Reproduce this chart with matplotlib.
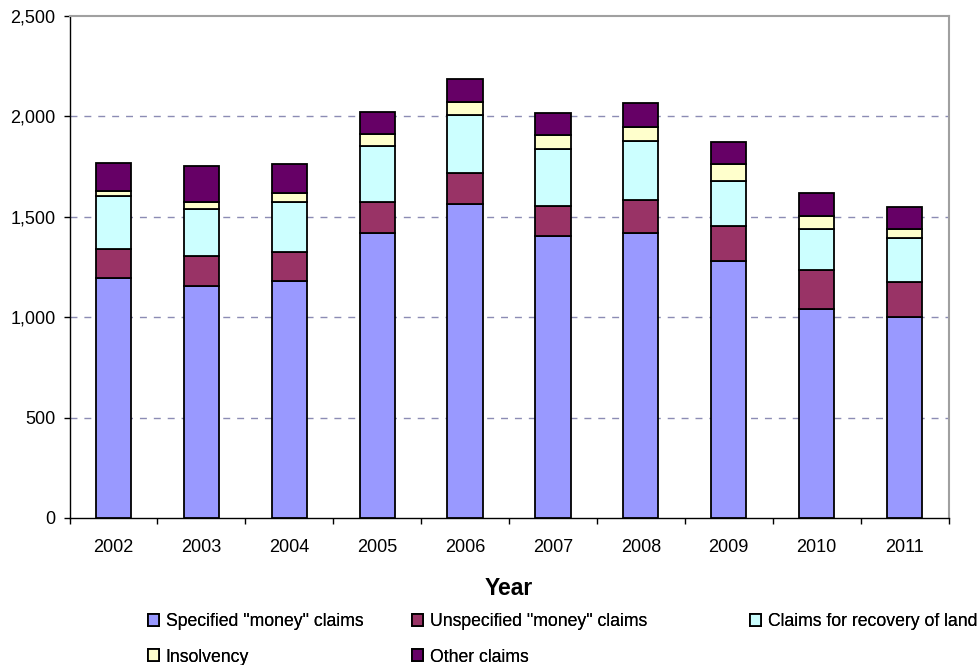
import matplotlib
matplotlib.use("Agg")
import matplotlib.pyplot as plt
import numpy as np

plt.rcParams['font.family'] = ['Liberation Sans', 'DejaVu Sans']

years = ["2002", "2003", "2004", "2005", "2006", "2007", "2008", "2009", "2010", "2011"]
specified = [1197, 1157, 1180, 1421, 1564, 1406, 1421, 1282, 1042, 1003]
unspecified = [143, 150, 143, 153, 154, 146, 163, 174, 191, 172]
land = [262, 233, 252, 278, 287, 285, 295, 223, 208, 217]
insolvency = [25, 33, 43, 60, 68, 69, 67, 84, 64, 49]
other = [141, 179, 144, 111, 111, 111, 121, 111, 112, 108]

series_names = ['Specified "money" claims', 'Unspecified "money" claims',
                'Claims for recovery of land', 'Insolvency', 'Other claims']
series_vals = [specified, unspecified, land, insolvency, other]
colors = ['#9999FF', '#993366', '#CCFFFF', '#FFFFCC', '#660066']
yticks = [0, 500, 1000, 1500, 2000, 2500]

fig = plt.figure(figsize=(9.8, 6.65), dpi=100)
ax = fig.add_axes([69.5/980, (665-518)/665, (948.5-69.5)/980, (518-16)/665])

x = np.arange(len(years))
bottom = np.zeros(len(years))
handles = []
for name, vals, c in zip(series_names, series_vals, colors):
    b = ax.bar(x, vals, width=0.4, bottom=bottom, color=c, edgecolor='black',
               linewidth=1.3, label=name, zorder=3)
    handles.append(b)
    bottom += np.array(vals)

ax.set_xlim(-0.5, len(years) - 0.5)
ax.set_ylim(0, 2500)
ax.set_yticks(yticks)
ax.set_yticklabels([f"{v:,}" for v in yticks], fontsize=13)
ax.set_xticks(x)
ax.set_xticklabels(years, fontsize=13)
ax.tick_params(axis='x', length=0, pad=15)
ax.set_xticks(np.arange(-0.5, len(years)), minor=True)
ax.tick_params(axis='x', which='minor', length=4, width=1, direction='out')
ax.tick_params(axis='y', length=4, width=1, direction='out', pad=6)

for v in yticks[1:-1]:
    ax.axhline(v, color='#8C8CB4', linestyle=(0, (5, 5)), linewidth=1, zorder=1)

for side in ['top', 'right']:
    ax.spines[side].set_color('#A0A0A0')
    ax.spines[side].set_linewidth(1.5)
for side in ['left', 'bottom']:
    ax.spines[side].set_color('black')
    ax.spines[side].set_linewidth(1)

ax.set_xlabel('Year', fontsize=16.5, fontweight='bold', labelpad=15)

# legend entries placed row-wise like the original
positions = [(148, 622), (412, 622), (750, 622), (148, 657), (412, 657)]
for h, name, (px, py) in zip(handles, series_names, positions):
    lg = fig.legend([h], [name], loc='center left',
                    bbox_to_anchor=(px/980, 1 - py/665), frameon=False,
                    fontsize=12.7, handlelength=0.65, handleheight=0.65,
                    handletextpad=0.35, borderpad=0, borderaxespad=0)
    fig.add_artist(lg)

fig.savefig('out.png', dpi=100)
